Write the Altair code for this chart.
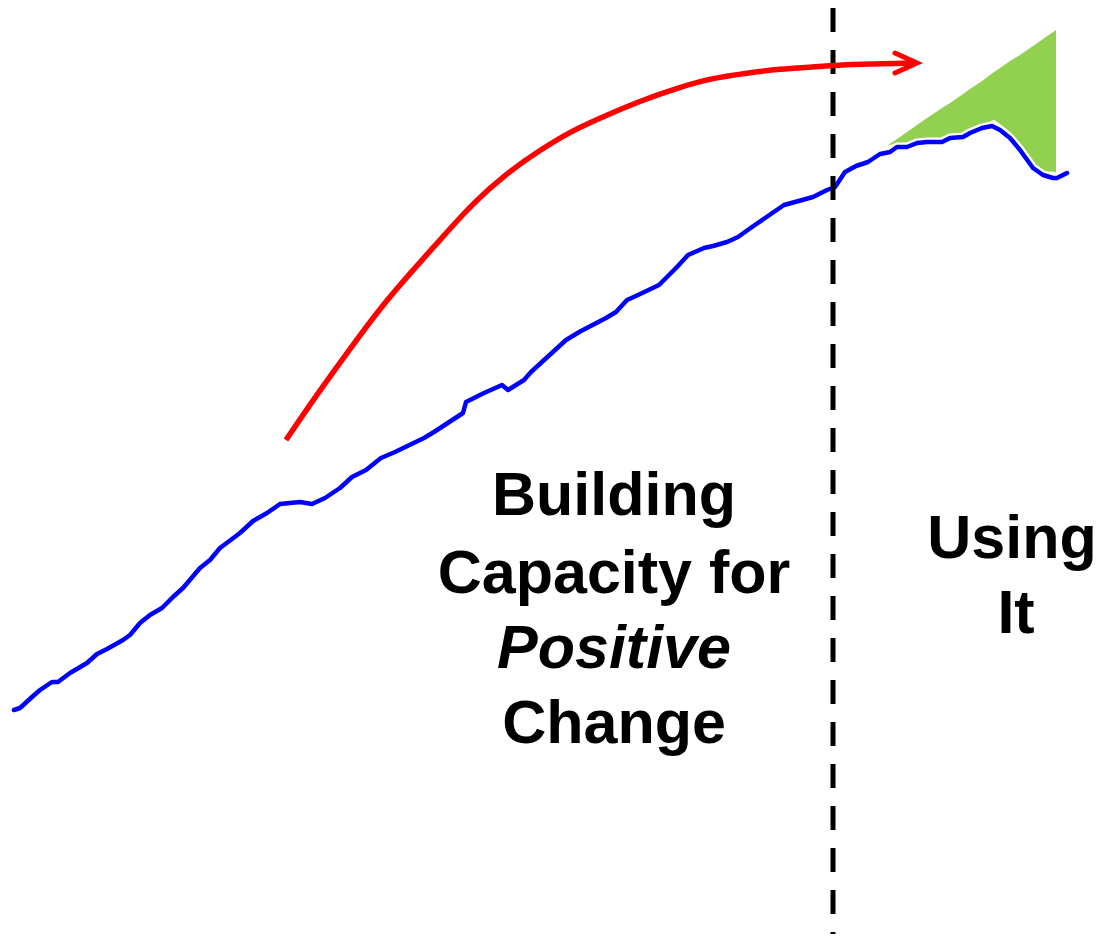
import altair as alt
import pandas as pd

# Blue trajectory (x, y in picture units; y grows downward)
blue_x = [14, 20, 32, 40, 52, 58, 70, 87, 97, 107, 123, 130, 140, 150, 162, 173, 183, 200, 210, 220,
          240, 253, 267, 280, 290, 300, 312, 325, 340, 352, 366, 381, 395, 424, 434, 463, 466, 484,
          502, 508, 524, 531, 566, 581, 606, 616, 627, 638, 659, 677, 688, 704, 713, 727, 738, 752,
          784, 795, 813, 827, 835, 845, 856, 868, 880, 890, 897, 907, 917, 927, 942, 950, 963, 970,
          982, 992, 1000, 1010, 1020, 1033, 1043, 1053, 1057, 1067]
blue_y = [710, 708, 697, 690, 682, 682, 673, 663, 654, 649, 640, 635, 623, 615, 608, 597, 588, 568, 560, 548,
          533, 521, 513, 504, 503, 502, 504, 498, 488, 477, 470, 458, 452, 438, 432, 413, 402, 393,
          385, 390, 380, 372, 340, 331, 318, 312, 300, 295, 285, 267, 255, 248, 246, 242, 237, 227,
          205, 202, 197, 190, 187, 172, 166, 162, 154, 152, 147, 147, 143, 142, 142, 138, 137, 133,
          128, 126, 130, 138, 150, 168, 175, 178, 178, 173]

# Red curved arrow
red_x = [286, 313, 347, 380, 413, 440, 473, 507, 540, 573, 607, 640, 680, 713, 747, 780, 813, 838, 870, 915]
red_y = [440, 400, 353, 308, 270, 240, 203, 173, 150, 130, 115, 101, 87, 78, 73, 69, 67, 65, 64, 63]

# Arrow head (open chevron)
head_x = [895, 917, 895]
head_y = [53, 63, 73]

# Green wedge: top edge and bottom edge
green_x = [888, 897, 907, 917, 927, 942, 950, 963, 970, 982, 994, 1000, 1010, 1020, 1033, 1043, 1056]
green_top = [145, 139, 132, 125, 118, 108, 103, 94, 89, 81, 72, 68, 61, 55, 46, 39, 30]
green_bot = [145, 144, 144, 140, 139, 139, 135, 134, 130, 125, 120, 124, 132, 144, 162, 171, 172]

# Divider
divider_x = 833

# Labels
left_lines = ["Building", "Capacity for", "Positive", "Change"]
left_y = [515, 593, 668, 743]
left_style = ["normal", "normal", "italic", "normal"]
left_x = 614
right_lines = ["Using", "It"]
right_y = [558, 633]
right_xs = [1012, 1016]

W, H = 1089, 926
xs = alt.Scale(domain=[8, 8 + W], nice=False, zero=False)
ys = alt.Scale(domain=[8, 8 + H], nice=False, zero=False, reverse=True)
X = lambda f: alt.X(f, type="quantitative", scale=xs, axis=None)
Y = lambda f: alt.Y(f, type="quantitative", scale=ys, axis=None)

blue_df = pd.DataFrame({"x": blue_x, "y": blue_y, "i": range(len(blue_x))})
red_df = pd.DataFrame({"x": red_x, "y": red_y, "i": range(len(red_x))})
head_df = pd.DataFrame({"x": head_x, "y": head_y, "i": range(len(head_x))})
green_df = pd.DataFrame({"x": green_x, "top": green_top, "bot": green_bot})
div_df = pd.DataFrame({"x": [divider_x], "y": [8], "y2": [8 + H]})
left_df = pd.DataFrame({"t": left_lines, "y": left_y, "s": left_style, "x": [left_x] * 4})
right_df = pd.DataFrame({"t": right_lines, "y": right_y, "x": right_xs})

green = alt.Chart(green_df).mark_area(color="#92D050", opacity=1).encode(
    x=X("x"), y=Y("top"), y2="bot")

divider = alt.Chart(div_df).mark_rule(color="black", strokeWidth=5, strokeDash=[24, 18]).encode(
    x=X("x"), y=Y("y"), y2="y2")

blue_halo = alt.Chart(blue_df).mark_line(color="white", strokeWidth=9, strokeJoin="round").encode(
    x=X("x"), y=Y("y"), order="i:Q")
blue = alt.Chart(blue_df).mark_line(color="#0000FF", strokeWidth=4.5, strokeJoin="round",
                                    strokeCap="round").encode(
    x=X("x"), y=Y("y"), order="i:Q")

red = alt.Chart(red_df).mark_line(color="#FF0000", strokeWidth=5.5, interpolate="basis").encode(
    x=X("x"), y=Y("y"), order="i:Q")
head = alt.Chart(head_df).mark_line(color="#FF0000", strokeWidth=5, strokeCap="round",
                                    strokeJoin="miter").encode(
    x=X("x"), y=Y("y"), order="i:Q")

font = "Liberation Sans"
left_normal = alt.Chart(left_df).transform_filter("datum.s == 'normal'").mark_text(
    font=font, fontSize=61, fontWeight="bold", align="center", baseline="alphabetic", color="black"
).encode(x=X("x"), y=Y("y"), text="t:N")
left_italic = alt.Chart(left_df).transform_filter("datum.s == 'italic'").mark_text(
    font=font, fontSize=61, fontWeight="bold", fontStyle="italic", align="center",
    baseline="alphabetic", color="black"
).encode(x=X("x"), y=Y("y"), text="t:N")
right_text = alt.Chart(right_df).mark_text(
    font=font, fontSize=61, fontWeight="bold", align="center", baseline="alphabetic", color="black"
).encode(x=X("x"), y=Y("y"), text="t:N")

chart = alt.layer(
    green, blue_halo, blue, divider, red, head, left_normal, left_italic, right_text
).properties(
    width=W, height=H, padding=0, autosize=alt.AutoSizeParams(type="none")
).configure(background="white", view=alt.ViewConfig(stroke=None))

chart.save("out.html", embed_options={"renderer": "svg", "actions": False})
